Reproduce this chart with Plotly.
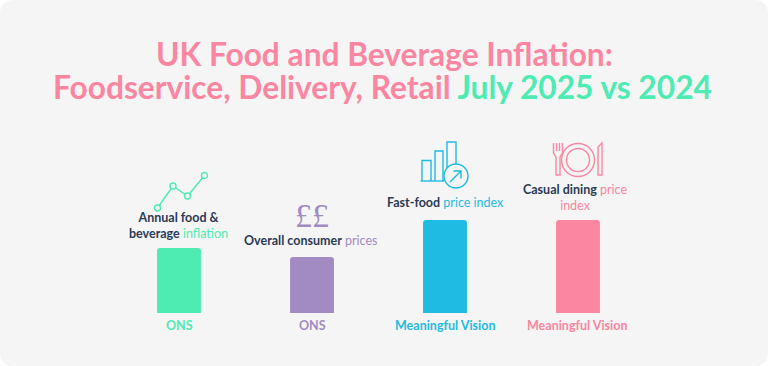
import plotly.graph_objects as go

W, H = 768, 366
FONT = "Lato"
PINK, GREEN, PURPLE, BLUE, NAVY = "#fb86a1", "#4eebb3", "#a18bc2", "#1fbbe3", "#2b3a55"

categories = ["Annual food & beverage inflation", "Overall consumer prices",
              "Fast-food price index", "Casual dining price index"]
values = [65, 56, 93, 93]
colors = [GREEN, PURPLE, BLUE, PINK]
sources = ["ONS", "ONS", "Meaningful Vision", "Meaningful Vision"]
label_html = [
    f"<b>Annual food &<br>beverage</b> <span style='color:{GREEN}'>inflation</span>",
    f"<b>Overall consumer</b> <span style='color:{PURPLE}'>prices</span>",
    f"<b>Fast-food</b> <span style='color:{BLUE}'>price index</span>",
    f"<b>Casual dining</b> <span style='color:{PINK}'>price</span><br><span style='color:{PINK}'>index</span>",
]
label_y = [225, 241, 203, 197.5]
label_dx = [-1, -1.5, 0, -3]
source_dx = [0, 0, 0, -1]


def px(x):
    return x / W


def py(y):
    return 1 - y / H


def path(pts, close=False):
    s = "M" + " L".join(f"{px(x):.5f},{py(y):.5f}" for x, y in pts)
    return s + (" Z" if close else "")


def line(pts, color, width=1.4, close=False):
    return dict(type="path", xref="paper", yref="paper", path=path(pts, close),
                line=dict(color=color, width=width), layer="above")


def circle(cx, cy, r, color, width=1.4, fill="#f5f5f5"):
    return dict(type="circle", xref="paper", yref="paper",
                x0=px(cx - r), x1=px(cx + r), y0=py(cy + r), y1=py(cy - r),
                line=dict(color=color, width=width), fillcolor=fill, layer="above")


fig = go.Figure(go.Bar(x=categories, y=values, width=0.33,
                       marker=dict(color=colors, cornerradius=3, line=dict(width=0)),
                       hoverinfo="skip"))

# rounded panel
r = 14
panel = (f"M{px(r)},{py(0)} L{px(W-r)},{py(0)} Q{px(W)},{py(0)} {px(W)},{py(r)} "
         f"L{px(W)},{py(H-r)} Q{px(W)},{py(H)} {px(W-r)},{py(H)} L{px(r)},{py(H)} "
         f"Q{px(0)},{py(H)} {px(0)},{py(H-r)} L{px(0)},{py(r)} Q{px(0)},{py(0)} {px(r)},{py(0)} Z")
shapes = [dict(type="path", xref="paper", yref="paper", path=panel,
               fillcolor="#f5f5f5", line=dict(width=0), layer="below")]

# trend icon
pts = [(157.5, 208), (173, 186), (187.5, 196), (204.5, 175.5)]
shapes.append(line(pts, GREEN))
shapes += [circle(x, y, 3, GREEN) for x, y in pts]

# bars + arrow icon
for x0, x1, top in [(422, 431, 160.5), (435, 443, 151), (447, 456, 142)]:
    shapes.append(line([(x0, 181), (x0, top), (x1, top), (x1, 181)], BLUE))
shapes.append(line([(420.5, 181), (444, 181)], BLUE))
shapes.append(circle(456, 176, 12, BLUE))
shapes.append(line([(450, 182), (461, 171)], BLUE))
shapes.append(line([(453.5, 171), (461, 171), (461, 178.5)], BLUE))

# cutlery icon
shapes.append(circle(578, 160, 16.5, PINK, fill="rgba(0,0,0,0)"))
shapes.append(circle(578, 160, 11.5, PINK, fill="rgba(0,0,0,0)"))
shapes.append(line([(553.5, 143), (553.5, 153), (556, 157), (556, 175), (560, 175),
                    (560, 157), (562.5, 153), (562.5, 143)], PINK))
shapes.append(line([(556.5, 143), (556.5, 151)], PINK))
shapes.append(line([(559.5, 143), (559.5, 151)], PINK))
shapes.append(line([(602, 143), (602, 175), (598, 175), (598, 147)], PINK, close=True))

common = dict(showarrow=False, xanchor="center", yanchor="middle")
annotations = [dict(xref="paper", yref="paper", x=px(384), y=py(54),
                    font=dict(family=FONT, size=31.7, color=PINK, weight=700),
                    text="UK Food and Beverage Inflation:", **common),
               dict(xref="paper", yref="paper", x=px(382), y=py(87),
                    font=dict(family=FONT, size=31.7, color=PINK, weight=700),
                    text=f"Foodservice, Delivery, Retail <span style='color:{GREEN}'>July 2025 vs 2024</span>", **common),
               dict(xref="paper", yref="paper", x=px(311.5), y=py(215),
                    font=dict(family="Liberation Serif", size=34, color=PURPLE), text="££", **common)]
for c, s, col, html, ly, dx, sdx in zip(categories, sources, colors, label_html, label_y, label_dx, source_dx):
    annotations.append(dict(x=c, xref="x", yref="paper", y=py(325), xshift=sdx,
                            font=dict(family=FONT, size=12.5, color=col, weight=700), text=s, **common))
    annotations.append(dict(x=c, xref="x", yref="paper", y=py(ly), xshift=dx,
                            font=dict(family=FONT, size=12.5, color=NAVY), text=html, **common))

fig.update_layout(
    width=W, height=H, margin=dict(l=0, r=0, t=0, b=0),
    paper_bgcolor="white", plot_bgcolor="rgba(0,0,0,0)", showlegend=False,
    shapes=shapes, annotations=annotations,
    xaxis=dict(domain=[px(112.5), px(644.5)], visible=False),
    yaxis=dict(domain=[py(313), py(213)], range=[0, 100], visible=False),
)
fig.write_html("out.html", config=dict(displayModeBar=False),
               post_script="document.body.style.margin='0';document.body.style.overflow='hidden';")
